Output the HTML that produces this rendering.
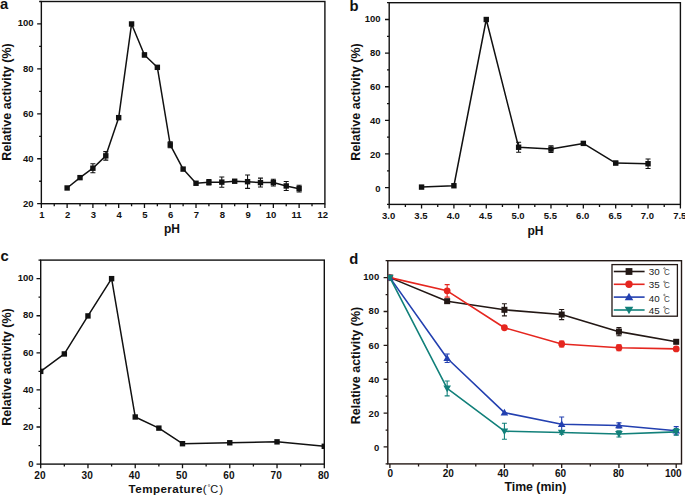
<!DOCTYPE html><html><head><meta charset="utf-8"><style>html,body{margin:0;padding:0;background:#fff;}svg{display:block}</style></head><body>
<svg width="685" height="497" viewBox="0 0 685 497" font-family="'Liberation Sans', sans-serif" fill="#111">
<defs>
<clipPath id="ca"><rect x="41.35" y="-6.5" width="283.55" height="210.2"/></clipPath>
<clipPath id="cb"><rect x="389.2" y="-5.3" width="291.2" height="209.7"/></clipPath>
<clipPath id="cc"><rect x="40.7" y="252.1" width="283.6" height="212"/></clipPath>
<clipPath id="cd"><rect x="387.8" y="252.7" width="293.7" height="211.2"/></clipPath>
</defs>
<rect x="41.35" y="1.5" width="283.55" height="202.2" fill="none" stroke="#111" stroke-width="1.4"/>
<path d="M41.35 203.7v4.2 M67.13 203.7v4.2 M92.9 203.7v4.2 M118.68 203.7v4.2 M144.46 203.7v4.2 M170.24 203.7v4.2 M196.01 203.7v4.2 M221.79 203.7v4.2 M247.57 203.7v4.2 M273.35 203.7v4.2 M299.12 203.7v4.2 M324.9 203.7v4.2 M54.24 203.7v2.5 M80.02 203.7v2.5 M105.79 203.7v2.5 M131.57 203.7v2.5 M157.35 203.7v2.5 M183.12 203.7v2.5 M208.9 203.7v2.5 M234.68 203.7v2.5 M260.46 203.7v2.5 M286.23 203.7v2.5 M312.01 203.7v2.5" stroke="#111" stroke-width="1.3" fill="none"/>
<text x="41.85" y="218.4" font-size="9.5" font-weight="bold" text-anchor="middle">1</text>
<text x="67.63" y="218.4" font-size="9.5" font-weight="bold" text-anchor="middle">2</text>
<text x="93.4" y="218.4" font-size="9.5" font-weight="bold" text-anchor="middle">3</text>
<text x="119.18" y="218.4" font-size="9.5" font-weight="bold" text-anchor="middle">4</text>
<text x="144.96" y="218.4" font-size="9.5" font-weight="bold" text-anchor="middle">5</text>
<text x="170.74" y="218.4" font-size="9.5" font-weight="bold" text-anchor="middle">6</text>
<text x="196.51" y="218.4" font-size="9.5" font-weight="bold" text-anchor="middle">7</text>
<text x="222.29" y="218.4" font-size="9.5" font-weight="bold" text-anchor="middle">8</text>
<text x="248.07" y="218.4" font-size="9.5" font-weight="bold" text-anchor="middle">9</text>
<text x="271.05" y="218.4" font-size="9.5" font-weight="bold" text-anchor="middle">10</text>
<text x="296.62" y="218.4" font-size="9.5" font-weight="bold" text-anchor="middle">11</text>
<text x="322.8" y="218.4" font-size="9.5" font-weight="bold" text-anchor="middle">12</text>
<path d="M41.35 203.7h-4.2 M41.35 158.77h-4.2 M41.35 113.83h-4.2 M41.35 68.9h-4.2 M41.35 23.97h-4.2 M41.35 181.23h-2.2 M41.35 136.3h-2.2 M41.35 91.37h-2.2 M41.35 46.43h-2.2 M41.35 1.5h-2.2" stroke="#111" stroke-width="1.3" fill="none"/>
<text x="33.5" y="206.9" font-size="9.5" font-weight="bold" text-anchor="end">20</text>
<text x="33.5" y="161.79" font-size="9.5" font-weight="bold" text-anchor="end">40</text>
<text x="33.5" y="116.68" font-size="9.5" font-weight="bold" text-anchor="end">60</text>
<text x="33.5" y="71.57" font-size="9.5" font-weight="bold" text-anchor="end">80</text>
<text x="33.5" y="26.47" font-size="9.5" font-weight="bold" text-anchor="end">100</text>
<g clip-path="url(#ca)">
<path d="M67.13 187.97 L80.02 177.64 L92.9 168.2 L105.79 155.85 L118.68 117.65 L131.57 23.97 L144.46 54.97 L157.35 67.33 L170.24 144.84 L183.12 169.1 L196.01 183.26 L208.9 182.36 L221.79 182.13 L234.68 181.23 L247.57 181.68 L260.46 182.58 L273.35 182.58 L286.23 185.95 L299.12 188.65" stroke="#111" stroke-width="1.5" fill="none" stroke-linejoin="round"/>
<path d="M92.9 163.71V172.7M90.4 163.71h5M90.4 172.7h5 M105.79 151.58V160.11M103.29 151.58h5M103.29 160.11h5 M144.46 53.17V56.77M141.96 53.17h5M141.96 56.77h5 M170.24 141.92V147.76M167.74 141.92h5M167.74 147.76h5 M208.9 179.66V185.05M206.4 179.66h5M206.4 185.05h5 M221.79 176.96V187.3M219.29 176.96h5M219.29 187.3h5 M247.57 174.94V188.42M245.07 174.94h5M245.07 188.42h5 M260.46 178.09V187.07M257.96 178.09h5M257.96 187.07h5 M273.35 179.21V185.95M270.85 179.21h5M270.85 185.95h5 M286.23 181.46V190.44M283.73 181.46h5M283.73 190.44h5 M299.12 185.28V192.02M296.62 185.28h5M296.62 192.02h5" stroke="#111" stroke-width="1.1" fill="none"/>
<rect x="64.43" y="185.27" width="5.4" height="5.4" fill="#111"/>
<rect x="77.32" y="174.94" width="5.4" height="5.4" fill="#111"/>
<rect x="90.2" y="165.5" width="5.4" height="5.4" fill="#111"/>
<rect x="103.09" y="153.15" width="5.4" height="5.4" fill="#111"/>
<rect x="115.98" y="114.95" width="5.4" height="5.4" fill="#111"/>
<rect x="128.87" y="21.27" width="5.4" height="5.4" fill="#111"/>
<rect x="141.76" y="52.27" width="5.4" height="5.4" fill="#111"/>
<rect x="154.65" y="64.63" width="5.4" height="5.4" fill="#111"/>
<rect x="167.54" y="142.14" width="5.4" height="5.4" fill="#111"/>
<rect x="180.42" y="166.4" width="5.4" height="5.4" fill="#111"/>
<rect x="193.31" y="180.56" width="5.4" height="5.4" fill="#111"/>
<rect x="206.2" y="179.66" width="5.4" height="5.4" fill="#111"/>
<rect x="219.09" y="179.43" width="5.4" height="5.4" fill="#111"/>
<rect x="231.98" y="178.53" width="5.4" height="5.4" fill="#111"/>
<rect x="244.87" y="178.98" width="5.4" height="5.4" fill="#111"/>
<rect x="257.76" y="179.88" width="5.4" height="5.4" fill="#111"/>
<rect x="270.65" y="179.88" width="5.4" height="5.4" fill="#111"/>
<rect x="283.53" y="183.25" width="5.4" height="5.4" fill="#111"/>
<rect x="296.42" y="185.95" width="5.4" height="5.4" fill="#111"/>
</g>
<text transform="translate(10.9 102) rotate(-90)" font-size="12.5" font-weight="bold" text-anchor="middle">Relative activity (%)</text>
<text x="172" y="233" font-size="12" font-weight="bold" text-anchor="middle">pH</text>
<text x="0" y="9.2" font-size="14.8" font-weight="bold">a</text>
<rect x="389.2" y="2.7" width="291.2" height="201.7" fill="none" stroke="#111" stroke-width="1.4"/>
<path d="M389.2 204.4v4.2 M421.56 204.4v4.2 M453.91 204.4v4.2 M486.27 204.4v4.2 M518.62 204.4v4.2 M550.98 204.4v4.2 M583.33 204.4v4.2 M615.69 204.4v4.2 M648.04 204.4v4.2 M680.4 204.4v4.2 M405.38 204.4v2.5 M437.73 204.4v2.5 M470.09 204.4v2.5 M502.44 204.4v2.5 M534.8 204.4v2.5 M567.16 204.4v2.5 M599.51 204.4v2.5 M631.87 204.4v2.5 M664.22 204.4v2.5" stroke="#111" stroke-width="1.3" fill="none"/>
<text x="388.6" y="219" font-size="9.5" font-weight="bold" text-anchor="middle">3.0</text>
<text x="420.96" y="219" font-size="9.5" font-weight="bold" text-anchor="middle">3.5</text>
<text x="453.31" y="219" font-size="9.5" font-weight="bold" text-anchor="middle">4.0</text>
<text x="485.67" y="219" font-size="9.5" font-weight="bold" text-anchor="middle">4.5</text>
<text x="518.02" y="219" font-size="9.5" font-weight="bold" text-anchor="middle">5.0</text>
<text x="550.38" y="219" font-size="9.5" font-weight="bold" text-anchor="middle">5.5</text>
<text x="582.73" y="219" font-size="9.5" font-weight="bold" text-anchor="middle">6.0</text>
<text x="615.09" y="219" font-size="9.5" font-weight="bold" text-anchor="middle">6.5</text>
<text x="647.44" y="219" font-size="9.5" font-weight="bold" text-anchor="middle">7.0</text>
<text x="679.8" y="219" font-size="9.5" font-weight="bold" text-anchor="middle">7.5</text>
<path d="M389.2 187.59h-4.2 M389.2 153.97h-4.2 M389.2 120.36h-4.2 M389.2 86.74h-4.2 M389.2 53.12h-4.2 M389.2 19.51h-4.2 M389.2 204.4h-2.2 M389.2 170.78h-2.2 M389.2 137.17h-2.2 M389.2 103.55h-2.2 M389.2 69.93h-2.2 M389.2 36.32h-2.2 M389.2 2.7h-2.2" stroke="#111" stroke-width="1.3" fill="none"/>
<text x="380.6" y="191.89" font-size="9.5" font-weight="bold" text-anchor="end">0</text>
<text x="380.6" y="157.91" font-size="9.5" font-weight="bold" text-anchor="end">20</text>
<text x="380.6" y="123.94" font-size="9.5" font-weight="bold" text-anchor="end">40</text>
<text x="380.6" y="89.96" font-size="9.5" font-weight="bold" text-anchor="end">60</text>
<text x="380.6" y="55.98" font-size="9.5" font-weight="bold" text-anchor="end">80</text>
<text x="380.6" y="22.01" font-size="9.5" font-weight="bold" text-anchor="end">100</text>
<g clip-path="url(#cb)">
<path d="M421.56 187.09 L453.91 185.74 L486.27 19.51 L518.62 147.25 L550.98 149.1 L583.33 143.39 L615.69 163.05 L648.04 163.72" stroke="#111" stroke-width="1.5" fill="none" stroke-linejoin="round"/>
<path d="M518.62 142.21V152.29M516.12 142.21h5M516.12 152.29h5 M550.98 145.74V152.46M548.48 145.74h5M548.48 152.46h5 M615.69 161.37V164.73M613.19 161.37h5M613.19 164.73h5 M648.04 159.02V168.43M645.54 159.02h5M645.54 168.43h5" stroke="#111" stroke-width="1.1" fill="none"/>
<rect x="418.86" y="184.39" width="5.4" height="5.4" fill="#111"/>
<rect x="451.21" y="183.04" width="5.4" height="5.4" fill="#111"/>
<rect x="483.57" y="16.81" width="5.4" height="5.4" fill="#111"/>
<rect x="515.92" y="144.55" width="5.4" height="5.4" fill="#111"/>
<rect x="548.28" y="146.4" width="5.4" height="5.4" fill="#111"/>
<rect x="580.63" y="140.69" width="5.4" height="5.4" fill="#111"/>
<rect x="612.99" y="160.35" width="5.4" height="5.4" fill="#111"/>
<rect x="645.34" y="161.02" width="5.4" height="5.4" fill="#111"/>
</g>
<text transform="translate(360.2 102) rotate(-90)" font-size="12.5" font-weight="bold" text-anchor="middle">Relative activity (%)</text>
<text x="535.4" y="235" font-size="12" font-weight="bold" text-anchor="middle">pH</text>
<text x="349.6" y="10.9" font-size="14.8" font-weight="bold">b</text>
<rect x="40.7" y="260.1" width="283.6" height="204" fill="none" stroke="#111" stroke-width="1.4"/>
<path d="M40.7 464.1v4.2 M87.97 464.1v4.2 M135.23 464.1v4.2 M182.5 464.1v4.2 M229.77 464.1v4.2 M277.03 464.1v4.2 M324.3 464.1v4.2 M64.33 464.1v2.5 M111.6 464.1v2.5 M158.87 464.1v2.5 M206.13 464.1v2.5 M253.4 464.1v2.5 M300.67 464.1v2.5" stroke="#111" stroke-width="1.3" fill="none"/>
<text x="39.9" y="479" font-size="10.1" font-weight="bold" text-anchor="middle">20</text>
<text x="87.17" y="479" font-size="10.1" font-weight="bold" text-anchor="middle">30</text>
<text x="134.43" y="479" font-size="10.1" font-weight="bold" text-anchor="middle">40</text>
<text x="181.7" y="479" font-size="10.1" font-weight="bold" text-anchor="middle">50</text>
<text x="228.97" y="479" font-size="10.1" font-weight="bold" text-anchor="middle">60</text>
<text x="276.23" y="479" font-size="10.1" font-weight="bold" text-anchor="middle">70</text>
<text x="323.5" y="479" font-size="10.1" font-weight="bold" text-anchor="middle">80</text>
<path d="M40.7 464.1h-4.2 M40.7 427.01h-4.2 M40.7 389.92h-4.2 M40.7 352.83h-4.2 M40.7 315.74h-4.2 M40.7 278.65h-4.2 M40.7 445.55h-2.2 M40.7 408.46h-2.2 M40.7 371.37h-2.2 M40.7 334.28h-2.2 M40.7 297.19h-2.2 M40.7 260.1h-2.2" stroke="#111" stroke-width="1.3" fill="none"/>
<text x="33.5" y="467.3" font-size="9.5" font-weight="bold" text-anchor="end">0</text>
<text x="33.5" y="430.05" font-size="9.5" font-weight="bold" text-anchor="end">20</text>
<text x="33.5" y="392.8" font-size="9.5" font-weight="bold" text-anchor="end">40</text>
<text x="33.5" y="355.55" font-size="9.5" font-weight="bold" text-anchor="end">60</text>
<text x="33.5" y="318.3" font-size="9.5" font-weight="bold" text-anchor="end">80</text>
<text x="33.5" y="281.05" font-size="9.5" font-weight="bold" text-anchor="end">100</text>
<g clip-path="url(#cc)">
<path d="M40.7 371.37 L64.33 353.94 L87.97 315.92 L111.6 278.65 L135.23 416.99 L158.87 428.12 L182.5 443.7 L229.77 442.77 L277.03 441.85 L324.3 446.3" stroke="#111" stroke-width="1.5" fill="none" stroke-linejoin="round"/>
<rect x="38" y="368.67" width="5.4" height="5.4" fill="#111"/>
<rect x="61.63" y="351.24" width="5.4" height="5.4" fill="#111"/>
<rect x="85.27" y="313.22" width="5.4" height="5.4" fill="#111"/>
<rect x="108.9" y="275.95" width="5.4" height="5.4" fill="#111"/>
<rect x="132.53" y="414.29" width="5.4" height="5.4" fill="#111"/>
<rect x="156.17" y="425.42" width="5.4" height="5.4" fill="#111"/>
<rect x="179.8" y="441" width="5.4" height="5.4" fill="#111"/>
<rect x="227.07" y="440.07" width="5.4" height="5.4" fill="#111"/>
<rect x="274.33" y="439.15" width="5.4" height="5.4" fill="#111"/>
<rect x="321.6" y="443.6" width="5.4" height="5.4" fill="#111"/>
</g>
<text transform="translate(10.5 367) rotate(-90)" font-size="12.5" font-weight="bold" text-anchor="middle">Relative activity (%)</text>
<text x="128.6" y="493.1" font-size="11.6" font-weight="bold" letter-spacing="0.45">Temperature</text>
<text x="202.8" y="493.1" font-size="11.6">(</text><text x="207.6" y="489.6" font-size="7.5">°</text><text x="210.2" y="493.1" font-size="11">C</text><text x="219.3" y="493.1" font-size="11.6">)</text>
<text x="0.5" y="261.3" font-size="14.8" font-weight="bold">c</text>
<rect x="387.8" y="260.7" width="293.7" height="203.2" fill="none" stroke="#231815" stroke-width="1.4"/>
<path d="M389.9 463.9v4.2 M447.16 463.9v4.2 M504.42 463.9v4.2 M561.68 463.9v4.2 M618.94 463.9v4.2 M676.2 463.9v4.2 M418.53 463.9v2.5 M475.79 463.9v2.5 M533.05 463.9v2.5 M590.31 463.9v2.5 M647.57 463.9v2.5" stroke="#231815" stroke-width="1.3" fill="none"/>
<text x="390.4" y="477.4" font-size="10" font-weight="bold" text-anchor="middle">0</text>
<text x="448.26" y="477.4" font-size="10" font-weight="bold" text-anchor="middle">20</text>
<text x="503.07" y="477.4" font-size="10" font-weight="bold" text-anchor="middle">40</text>
<text x="560.58" y="477.4" font-size="10" font-weight="bold" text-anchor="middle">60</text>
<text x="618.54" y="477.4" font-size="10" font-weight="bold" text-anchor="middle">80</text>
<text x="673.3" y="477.4" font-size="10" font-weight="bold" text-anchor="middle">100</text>
<path d="M387.8 446.97h-4.2 M387.8 413.1h-4.2 M387.8 379.23h-4.2 M387.8 345.37h-4.2 M387.8 311.5h-4.2 M387.8 277.63h-4.2 M387.8 463.9h-2.2 M387.8 430.03h-2.2 M387.8 396.17h-2.2 M387.8 362.3h-2.2 M387.8 328.43h-2.2 M387.8 294.57h-2.2 M387.8 260.7h-2.2" stroke="#231815" stroke-width="1.3" fill="none"/>
<text x="379.2" y="451.37" font-size="9.5" font-weight="bold" text-anchor="end">0</text>
<text x="379.2" y="417.1" font-size="9.5" font-weight="bold" text-anchor="end">20</text>
<text x="379.2" y="382.83" font-size="9.5" font-weight="bold" text-anchor="end">40</text>
<text x="379.2" y="348.57" font-size="9.5" font-weight="bold" text-anchor="end">60</text>
<text x="379.2" y="314.3" font-size="9.5" font-weight="bold" text-anchor="end">80</text>
<text x="379.2" y="280.03" font-size="9.5" font-weight="bold" text-anchor="end">100</text>
<g clip-path="url(#cd)">
<path d="M389.9 277.63 L447.16 301.17 L504.42 309.81 L561.68 314.55 L618.94 331.65 L676.2 341.81" stroke="#231815" stroke-width="1.6" fill="none" stroke-linejoin="round"/>
<path d="M447.16 299.48V302.86M444.66 299.48h5M444.66 302.86h5 M504.42 303.71V315.9M501.92 303.71h5M501.92 315.9h5 M561.68 309.47V319.63M559.18 309.47h5M559.18 319.63h5 M618.94 327.59V335.71M616.44 327.59h5M616.44 335.71h5" stroke="#231815" stroke-width="1.1" fill="none"/>
<rect x="386.9" y="274.63" width="6" height="6" fill="#231815"/>
<rect x="444.16" y="298.17" width="6" height="6" fill="#231815"/>
<rect x="501.42" y="306.81" width="6" height="6" fill="#231815"/>
<rect x="558.68" y="311.55" width="6" height="6" fill="#231815"/>
<rect x="615.94" y="328.65" width="6" height="6" fill="#231815"/>
<rect x="673.2" y="338.81" width="6" height="6" fill="#231815"/>
</g>
<g clip-path="url(#cd)">
<path d="M389.9 277.63 L447.16 290.84 L504.42 327.76 L561.68 344.01 L618.94 347.74 L676.2 348.92" stroke="#e5261f" stroke-width="1.6" fill="none" stroke-linejoin="round"/>
<path d="M447.16 284.58V297.11M444.66 284.58h5M444.66 297.11h5 M561.68 340.96V347.06M559.18 340.96h5M559.18 347.06h5 M618.94 344.69V350.79M616.44 344.69h5M616.44 350.79h5" stroke="#e5261f" stroke-width="1.1" fill="none"/>
<circle cx="389.9" cy="277.63" r="3.4" fill="#e5261f"/>
<circle cx="447.16" cy="290.84" r="3.4" fill="#e5261f"/>
<circle cx="504.42" cy="327.76" r="3.4" fill="#e5261f"/>
<circle cx="561.68" cy="344.01" r="3.4" fill="#e5261f"/>
<circle cx="618.94" cy="347.74" r="3.4" fill="#e5261f"/>
<circle cx="676.2" cy="348.92" r="3.4" fill="#e5261f"/>
</g>
<g clip-path="url(#cd)">
<path d="M389.9 277.63 L447.16 358.24 L504.42 412.59 L561.68 424.28 L618.94 425.46 L676.2 430.71" stroke="#2340b0" stroke-width="1.6" fill="none" stroke-linejoin="round"/>
<path d="M447.16 354V362.47M444.66 354h5M444.66 362.47h5 M561.68 416.99V431.56M559.18 416.99h5M559.18 431.56h5 M618.94 422.92V428M616.44 422.92h5M616.44 428h5 M676.2 426.65V434.77M673.7 426.65h5M673.7 434.77h5" stroke="#2340b0" stroke-width="1.1" fill="none"/>
<path d="M389.9 273.84L393.69 280.44L386.1 280.44Z" fill="#2340b0"/>
<path d="M447.16 354.44L450.95 361.04L443.36 361.04Z" fill="#2340b0"/>
<path d="M504.42 408.8L508.21 415.4L500.62 415.4Z" fill="#2340b0"/>
<path d="M561.68 420.48L565.47 427.08L557.88 427.08Z" fill="#2340b0"/>
<path d="M618.94 421.67L622.73 428.27L615.14 428.27Z" fill="#2340b0"/>
<path d="M676.2 426.92L680 433.52L672.41 433.52Z" fill="#2340b0"/>
</g>
<g clip-path="url(#cd)">
<path d="M389.9 277.63 L447.16 388.38 L504.42 431.22 L561.68 432.57 L618.94 433.93 L676.2 431.9" stroke="#12807a" stroke-width="1.6" fill="none" stroke-linejoin="round"/>
<path d="M447.16 380.93V395.83M444.66 380.93h5M444.66 395.83h5 M504.42 423.26V439.18M501.92 423.26h5M501.92 439.18h5 M561.68 430.88V434.27M559.18 430.88h5M559.18 434.27h5 M618.94 430.88V436.98M616.44 430.88h5M616.44 436.98h5 M676.2 428.51V435.28M673.7 428.51h5M673.7 435.28h5" stroke="#12807a" stroke-width="1.1" fill="none"/>
<path d="M389.9 281.43L393.69 274.83L386.1 274.83Z" fill="#12807a"/>
<path d="M447.16 392.17L450.95 385.57L443.36 385.57Z" fill="#12807a"/>
<path d="M504.42 435.01L508.21 428.41L500.62 428.41Z" fill="#12807a"/>
<path d="M561.68 436.37L565.47 429.77L557.88 429.77Z" fill="#12807a"/>
<path d="M618.94 437.72L622.73 431.12L615.14 431.12Z" fill="#12807a"/>
<path d="M676.2 435.69L680 429.09L672.41 429.09Z" fill="#12807a"/>
</g>
<text transform="translate(359.8 365.5) rotate(-90)" font-size="12.5" font-weight="bold" text-anchor="middle">Relative activity (%)</text>
<text x="535.4" y="490.7" font-size="12.3" font-weight="bold" text-anchor="middle">Time (min)</text>
<text x="349.2" y="263.7" font-size="14.8" font-weight="bold">d</text>
<rect x="612" y="264.6" width="65.4" height="51.6" fill="#fff" stroke="#231815" stroke-width="1.3"/>
<path d="M613.8 271.5H644.6" stroke="#231815" stroke-width="1.6"/>
<rect x="625.6" y="268.1" width="6.8" height="6.8" fill="#231815"/>
<text x="648.7" y="275.0" font-size="9.8" fill="#222">30</text>
<circle cx="664.4" cy="268.4" r="0.75" fill="none" stroke="#444" stroke-width="0.6"/>
<text x="664.1" y="275.0" font-size="8.8" fill="#444" textLength="5.8" lengthAdjust="spacingAndGlyphs">C</text>
<path d="M613.8 284.3H644.6" stroke="#e5261f" stroke-width="1.6"/>
<circle cx="629" cy="284.3" r="3.7" fill="#e5261f"/>
<text x="648.7" y="288.4" font-size="9.8" fill="#222">35</text>
<circle cx="664.4" cy="281.8" r="0.75" fill="none" stroke="#444" stroke-width="0.6"/>
<text x="664.1" y="288.4" font-size="8.8" fill="#444" textLength="5.8" lengthAdjust="spacingAndGlyphs">C</text>
<path d="M613.8 297.1H644.6" stroke="#2340b0" stroke-width="1.6"/>
<path d="M629 292.85L633.25 300.25L624.75 300.25Z" fill="#2340b0"/>
<text x="648.7" y="301.6" font-size="9.8" fill="#222">40</text>
<circle cx="664.4" cy="295" r="0.75" fill="none" stroke="#444" stroke-width="0.6"/>
<text x="664.1" y="301.6" font-size="8.8" fill="#444" textLength="5.8" lengthAdjust="spacingAndGlyphs">C</text>
<path d="M613.8 310.0H644.6" stroke="#12807a" stroke-width="1.6"/>
<path d="M629 314.25L633.25 306.86L624.75 306.86Z" fill="#12807a"/>
<text x="648.7" y="313.9" font-size="9.8" fill="#222">45</text>
<circle cx="664.4" cy="307.3" r="0.75" fill="none" stroke="#444" stroke-width="0.6"/>
<text x="664.1" y="313.9" font-size="8.8" fill="#444" textLength="5.8" lengthAdjust="spacingAndGlyphs">C</text>
</svg></body></html>
